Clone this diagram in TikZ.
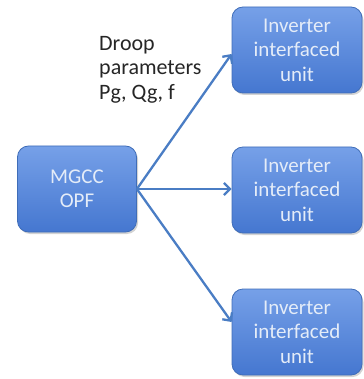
\documentclass[tikz,border=0pt]{standalone}
\usepackage{fontspec}
\setmainfont{Carlito}
\usetikzlibrary{arrows.meta,shadows}
\definecolor{boxtop}{HTML}{76A0E8}
\definecolor{boxbot}{HTML}{4577D0}
\definecolor{boxline}{HTML}{3F6DB8}
\definecolor{arr}{HTML}{4A7DC4}
\definecolor{txt}{HTML}{E4ECF8}
\tikzset{
  unitbox/.style={draw=boxline, line width=0.8pt, rounded corners=11pt,
    top color=boxtop, bottom color=boxbot, minimum width=130pt, minimum height=86pt,
    align=center, text=txt, font=\fontsize{21}{24.5}\selectfont,
    drop shadow={shadow xshift=1.5pt, shadow yshift=-2pt, opacity=0.35}},
  link/.style={draw=arr, line width=2.3pt, -{Straight Barb[length=6pt,width=12pt]}}
}
\begin{document}
\begin{tikzpicture}[x=1pt,y=-1pt]
\useasboundingbox (0,0) rectangle (363,379);
\node[unitbox, minimum width=119pt] (mgcc) at (77,189) {MGCC\\OPF};
\node[unitbox] (u1) at (297,50) {Inverter\\interfaced\\unit};
\node[unitbox] (u2) at (297,190) {Inverter\\interfaced\\unit};
\node[unitbox] (u3) at (297,332) {Inverter\\interfaced\\unit};
\node[align=left, anchor=north west, inner sep=0pt, font=\fontsize{22}{24.5}\selectfont, text=black!85] (lbl) at (99,36) {Droop\\parameters\\Pg, Qg, f};
\coordinate (s) at (mgcc.east);
\draw[link] (s) -- (u1.west |- 0,54);
\draw[link] (s) -- (u2.west |- s);
\draw[link] (s) -- (u3.west |- 0,322);
\end{tikzpicture}
\end{document}
